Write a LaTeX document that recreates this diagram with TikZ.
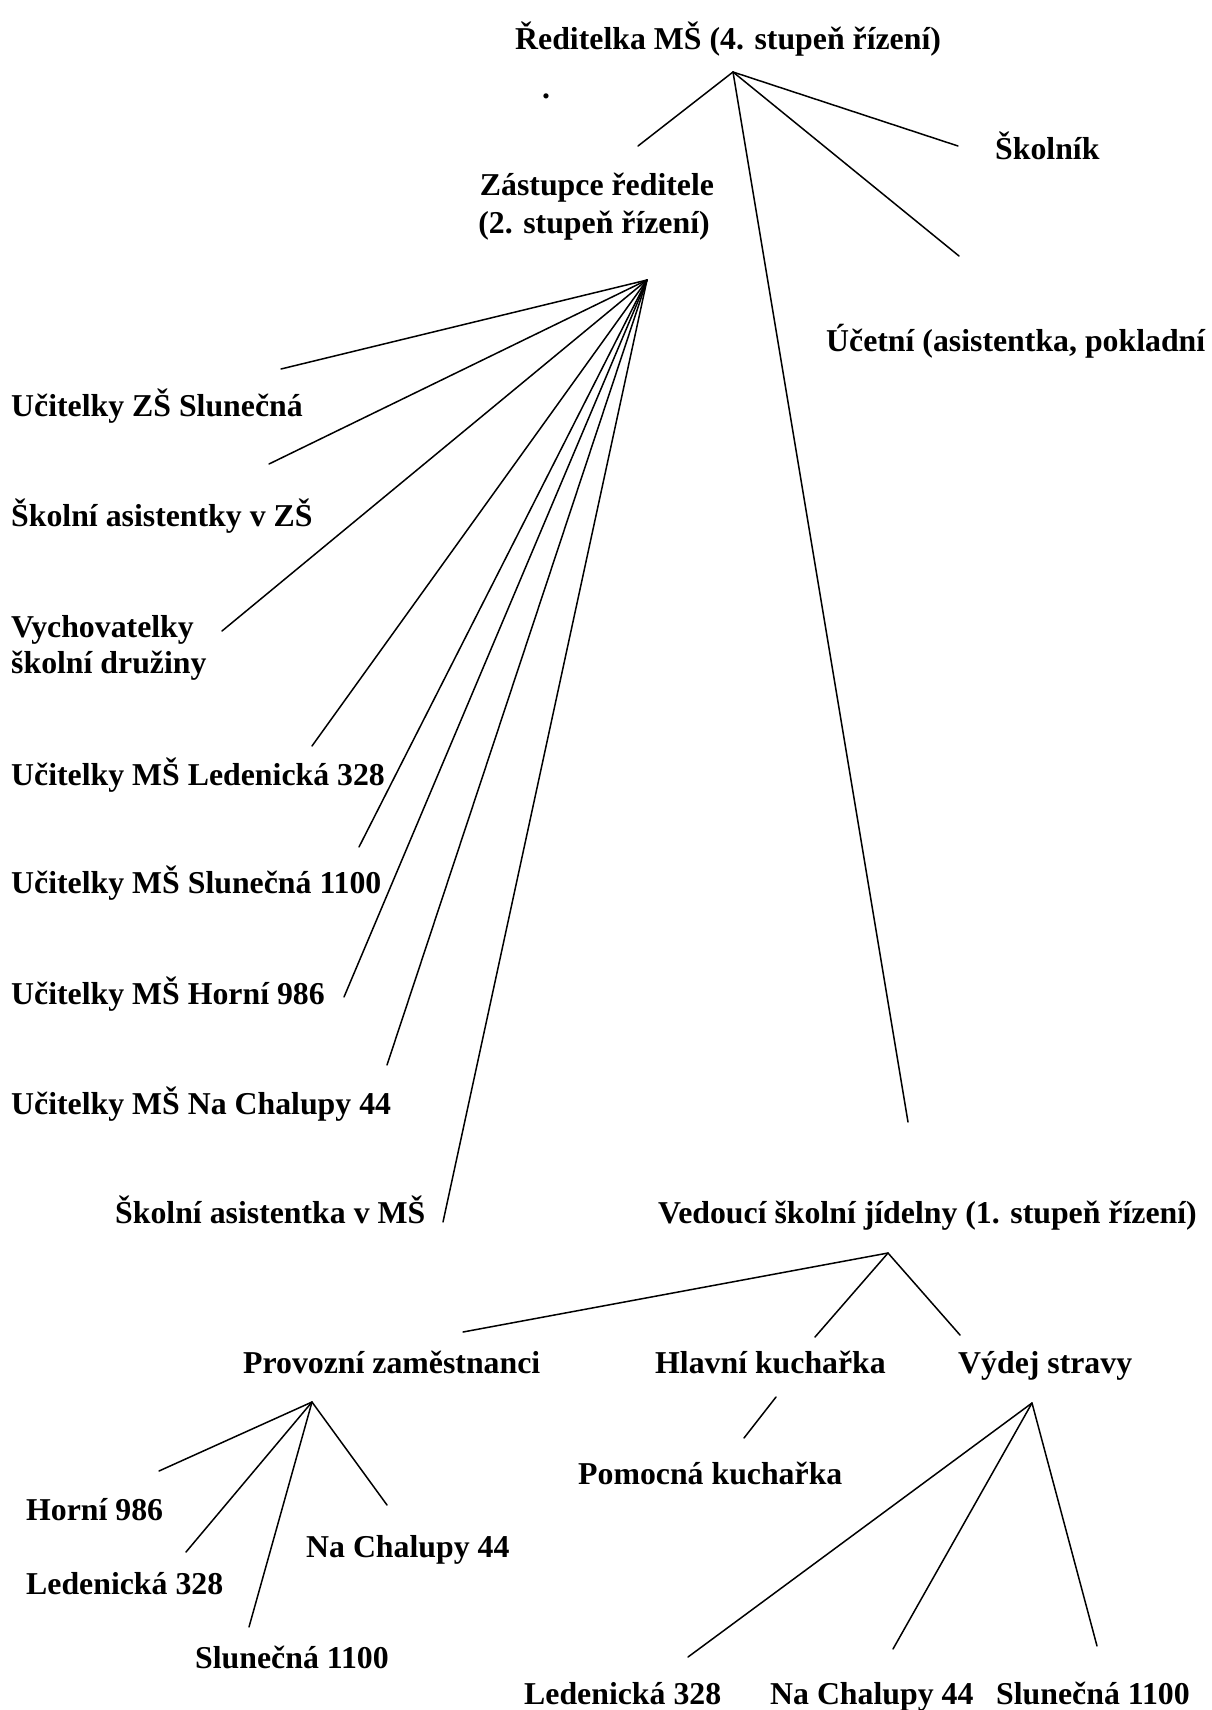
\documentclass[tikz,border=0pt]{standalone}
\usepackage{fontspec}
\setmainfont{Liberation Serif}
\begin{document}
\begin{tikzpicture}[x=1pt,y=-1pt,
  lbl/.style={anchor=base west,inner sep=0pt,font=\fontsize{31.8}{38}\selectfont\bfseries},
  lblc/.style={anchor=base,inner sep=0pt,font=\fontsize{31.8}{38}\selectfont\bfseries},
  conn/.style={line width=1.5pt,line cap=round}]
\useasboundingbox[fill=white] (0,0) rectangle (1211,1710);
% texts
\node[lbl] (root) at (515,49) {Ředitelka MŠ (4. stupeň řízení)};
\node[lbl] (dot) at (542,99) {.};
\node[lbl] (skol) at (995,159) {Školník};
\node[lblc] (zast1) at (597,195) {Zástupce ředitele};
\node[lblc] (zast2) at (594,233) {(2. stupeň řízení)};
\node[lbl] (ucet) at (826,351) {Účetní (asistentka, pokladní};
\node[lbl] (uzs) at (11,416) {Učitelky ZŠ Slunečná};
\node[lbl] (sazs) at (11,526) {Školní asistentky v ZŠ};
\node[lbl] (vych1) at (11,637) {Vychovatelky};
\node[lbl] (vych2) at (11,673) {školní družiny};
\node[lbl] (uled) at (11,785) {Učitelky MŠ Ledenická 328};
\node[lbl] (uslu) at (11,893) {Učitelky MŠ Slunečná 1100};
\node[lbl] (uhor) at (11,1004) {Učitelky MŠ Horní 986};
\node[lbl] (ucha) at (11,1114) {Učitelky MŠ Na Chalupy 44};
\node[lbl] (sams) at (115,1223) {Školní asistentka v MŠ};
\node[lbl] (ved) at (658,1223) {Vedoucí školní jídelny (1. stupeň řízení)};
\node[lbl] (prov) at (243,1373) {Provozní zaměstnanci};
\node[lbl] (hlav) at (655,1373) {Hlavní kuchařka};
\node[lbl] (vyd) at (958,1373) {Výdej stravy};
\node[lbl] (pom) at (578,1484) {Pomocná kuchařka};
\node[lbl] (ph) at (26,1520) {Horní 986};
\node[lbl] (pl) at (26,1594) {Ledenická 328};
\node[lbl] (pc) at (306,1557) {Na Chalupy 44};
\node[lbl] (ps) at (195,1668) {Slunečná 1100};
\node[lbl] (vl) at (524,1704) {Ledenická 328};
\node[lbl] (vc) at (770,1704) {Na Chalupy 44};
\node[lbl] (vs) at (996,1704) {Slunečná 1100};
% connector points
\coordinate (rootA) at (733,72);
\coordinate (zastE) at (638,146);
\coordinate (skolE) at (958,146);
\coordinate (ucetE) at (959,256);
\coordinate (vedE) at (908,1122);
\coordinate (zastA) at (647,280);
\coordinate (e1) at (281,369);
\coordinate (e2) at (269,464);
\coordinate (e3) at (222,631);
\coordinate (e4) at (312,746);
\coordinate (e5) at (359,847);
\coordinate (e6) at (344,997);
\coordinate (e7) at (387,1065);
\coordinate (e8) at (443,1222);
\coordinate (vedA) at (888,1253);
\coordinate (f1) at (463,1332);
\coordinate (f2) at (815,1337);
\coordinate (f3) at (960,1335);
\coordinate (hlavA) at (776,1397);
\coordinate (pomE) at (744,1438);
\coordinate (provA) at (312,1402);
\coordinate (g1) at (159,1471);
\coordinate (g2) at (186,1552);
\coordinate (g3) at (249,1627);
\coordinate (g4) at (387,1505);
\coordinate (vydA) at (1032,1403);
\coordinate (h1) at (688,1657);
\coordinate (h2) at (893,1649);
\coordinate (h3) at (1097,1646);
% connectors
\foreach \t in {zastE,skolE,ucetE,vedE} \draw[conn] (rootA) -- (\t);
\foreach \t in {e1,e2,e3,e4,e5,e6,e7,e8} \draw[conn] (zastA) -- (\t);
\foreach \t in {f1,f2,f3} \draw[conn] (vedA) -- (\t);
\draw[conn] (hlavA) -- (pomE);
\foreach \t in {g1,g2,g3,g4} \draw[conn] (provA) -- (\t);
\foreach \t in {h1,h2,h3} \draw[conn] (vydA) -- (\t);
\end{tikzpicture}
\end{document}
